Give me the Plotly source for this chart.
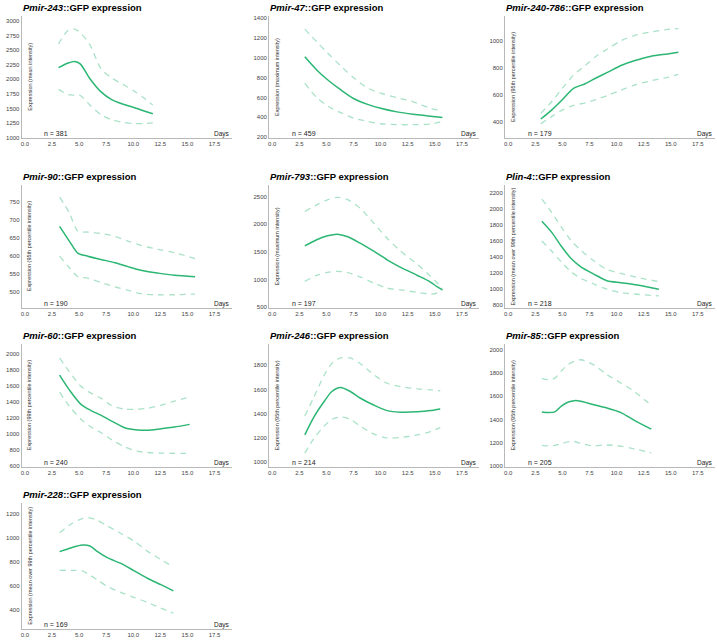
import plotly.graph_objects as go

W, H = 717, 644

# ---- panel metadata ----
GENES = ["Pmir-243", "Pmir-47", "Pmir-240-786", "Pmir-90", "Pmir-793",
         "Plin-4", "Pmir-60", "Pmir-246", "Pmir-85", "Pmir-228"]
Y_LABELS = [
    "Expression (mean intensity)",
    "Expression (maximum intensity)",
    "Expression (95th percentile intensity)",
    "Expression (95th percentile intensity)",
    "Expression (maximum intensity)",
    "Expression (mean over 99th percentile intensity)",
    "Expression (99th percentile intensity)",
    "Expression (95th percentile intensity)",
    "Expression (95th percentile intensity)",
    "Expression (mean over 99th percentile intensity)",
]
N_WORMS = [381, 459, 179, 190, 197, 218, 240, 214, 205, 169]
X_TICKS = [0.0, 2.5, 5.0, 7.5, 10.0, 12.5, 15.0, 17.5]
Y_TICKS = [
    [1000, 1250, 1500, 1750, 2000, 2250, 2500, 2750, 3000],
    [200, 400, 600, 800, 1000, 1200, 1400],
    [400, 600, 800, 1000],
    [500, 550, 600, 650, 700, 750],
    [500, 1000, 1500, 2000, 2500],
    [800, 1000, 1200, 1400, 1600, 1800, 2000, 2200],
    [600, 800, 1000, 1200, 1400, 1600, 1800, 2000],
    [1000, 1200, 1400, 1600, 1800],
    [1000, 1200, 1400, 1600, 1800, 2000],
    [400, 600, 800, 1000, 1200],
]
Y_RANGES = [
    [995, 3085], [190, 1423], [277, 1184], [454, 796], [482, 2711],
    [759, 2303], [588, 2123], [959, 1976], [986, 2056], [243, 1291],
]

# ---- curves: mean and confidence band per reporter ----
DAYS_243 = [3.1, 4.0, 4.6, 5.1, 6.0, 7.0, 8.0, 9.0, 10.0, 11.0, 11.8]
MEAN_243 = [2200, 2280, 2305, 2265, 2010, 1790, 1655, 1580, 1523, 1460, 1411]
UPPER_243 = [2606, 2840, 2860, 2800, 2590, 2190, 2025, 1920, 1810, 1680, 1560]
LOWER_243 = [1828, 1740, 1730, 1725, 1560, 1400, 1310, 1268, 1245, 1245, 1255]

DAYS_47 = [3.0, 4.1, 5.1, 6.3, 7.5, 8.8, 10.0, 11.5, 13.0, 14.6, 15.7]
MEAN_47 = [1010, 878, 779, 679, 590, 531, 491, 455, 431, 412, 398]
UPPER_47 = [1290, 1162, 1050, 920, 800, 695, 645, 598, 557, 491, 464]
LOWER_47 = [745, 600, 514, 448, 392, 359, 335, 326, 326, 332, 359]

DAYS_240 = [3.0, 4.0, 5.1, 6.0, 7.1, 8.1, 9.2, 10.4, 11.7, 13.2, 14.7, 15.7]
MEAN_240 = [419, 485, 571, 645, 681, 723, 767, 816, 853, 885, 902, 914]
UPPER_240 = [461, 547, 657, 743, 816, 885, 940, 1000, 1040, 1065, 1084, 1090]
LOWER_240 = [383, 437, 490, 520, 538, 563, 595, 633, 672, 703, 728, 750]

DAYS_90 = [3.2, 4.1, 4.9, 5.8, 7.0, 8.3, 9.5, 10.7, 12.3, 13.8, 15.7]
MEAN_90 = [681, 640, 606, 598, 589, 580, 569, 559, 551, 545, 541]
UPPER_90 = [762, 718, 667, 665, 661, 653, 640, 628, 617, 608, 591]
LOWER_90 = [598, 566, 541, 537, 525, 513, 504, 494, 491, 491, 493]

DAYS_793 = [3.0, 4.1, 5.1, 6.0, 6.9, 8.1, 9.4, 10.6, 11.8, 13.4, 14.6, 15.2, 15.7]
MEAN_793 = [1608, 1717, 1789, 1819, 1777, 1657, 1506, 1355, 1223, 1072, 952, 870, 813]
UPPER_793 = [2229, 2349, 2440, 2485, 2450, 2290, 2010, 1745, 1520, 1270, 1060, 940, 831]
LOWER_793 = [964, 1072, 1127, 1145, 1127, 1045, 934, 843, 813, 765, 735, 753, 813]

DAYS_LIN4 = [3.1, 4.0, 4.9, 5.8, 6.7, 7.9, 9.1, 10.4, 11.9, 13.9]
MEAN_LIN4 = [1848, 1711, 1533, 1380, 1276, 1185, 1102, 1077, 1048, 995]
UPPER_LIN4 = [2125, 1960, 1773, 1607, 1483, 1351, 1243, 1193, 1144, 1090]
LOWER_LIN4 = [1599, 1475, 1338, 1214, 1131, 1061, 995, 953, 932, 912]

DAYS_60 = [3.2, 4.1, 5.2, 6.1, 7.0, 8.0, 9.2, 10.4, 11.3, 12.6, 13.8, 15.2]
MEAN_60 = [1734, 1550, 1366, 1292, 1235, 1161, 1079, 1050, 1046, 1067, 1087, 1120]
UPPER_60 = [1947, 1775, 1591, 1509, 1447, 1355, 1310, 1308, 1320, 1360, 1410, 1460]
LOWER_60 = [1521, 1345, 1181, 1087, 1018, 930, 840, 786, 770, 762, 760, 760]

DAYS_246 = [3.0, 3.8, 4.8, 5.5, 6.3, 7.2, 8.1, 9.4, 10.6, 11.8, 13.4, 14.6, 15.5]
MEAN_246 = [1225, 1366, 1502, 1583, 1616, 1583, 1529, 1469, 1425, 1412, 1415, 1425, 1439]
UPPER_246 = [1380, 1529, 1719, 1814, 1860, 1860, 1814, 1719, 1651, 1624, 1605, 1597, 1588]
LOWER_246 = [1073, 1190, 1298, 1353, 1372, 1353, 1298, 1231, 1198, 1203, 1225, 1252, 1285]

DAYS_85 = [3.1, 3.7, 4.3, 4.9, 5.5, 6.1, 6.7, 7.9, 9.1, 10.4, 11.6, 13.2]
MEAN_85 = [1465, 1459, 1465, 1515, 1549, 1563, 1558, 1527, 1499, 1459, 1394, 1315]
UPPER_85 = [1755, 1746, 1758, 1820, 1875, 1905, 1918, 1873, 1790, 1716, 1645, 1521]
LOWER_85 = [1175, 1170, 1175, 1190, 1205, 1208, 1192, 1170, 1178, 1168, 1145, 1110]

DAYS_228 = [3.2, 4.3, 5.3, 6.0, 6.7, 7.6, 8.9, 10.1, 11.3, 12.6, 13.7]
MEAN_228 = [886, 919, 941, 933, 886, 836, 786, 726, 665, 610, 560]
UPPER_228 = [1043, 1118, 1160, 1167, 1145, 1100, 1035, 972, 890, 818, 759]
LOWER_228 = [731, 731, 726, 690, 650, 598, 545, 505, 465, 415, 375]

CURVES = [
    (DAYS_243, MEAN_243, UPPER_243, LOWER_243),
    (DAYS_47, MEAN_47, UPPER_47, LOWER_47),
    (DAYS_240, MEAN_240, UPPER_240, LOWER_240),
    (DAYS_90, MEAN_90, UPPER_90, LOWER_90),
    (DAYS_793, MEAN_793, UPPER_793, LOWER_793),
    (DAYS_LIN4, MEAN_LIN4, UPPER_LIN4, LOWER_LIN4),
    (DAYS_60, MEAN_60, UPPER_60, LOWER_60),
    (DAYS_246, MEAN_246, UPPER_246, LOWER_246),
    (DAYS_85, MEAN_85, UPPER_85, LOWER_85),
    (DAYS_228, MEAN_228, UPPER_228, LOWER_228),
]

# grid geometry in pixels
COL_LEFT = [20.7, 268.4, 504.7]
COL_WIDTH = 210.5
ROW_TOP = [15, 185, 345, 505]
ROW_BOTTOM = [138, 309, 469, 632]

MAIN_COLOR = "#2bb673"
BAND_COLOR = "rgba(43,182,115,0.4)"
FONT = "Arial, Liberation Sans, sans-serif"

fig = go.Figure()
annotations = []
layout_axes = {}

for i, (days, mean, upper, lower) in enumerate(CURVES):
    row, col = divmod(i, 3)
    k = "" if i == 0 else str(i + 1)
    left = COL_LEFT[col]
    right = left + COL_WIDTH
    top, bottom = ROW_TOP[row], ROW_BOTTOM[row]

    for vals, dashed in ((upper, True), (lower, True), (mean, False)):
        fig.add_trace(go.Scatter(
            x=days, y=vals, mode="lines", xaxis="x" + k, yaxis="y" + k,
            line=dict(color=BAND_COLOR if dashed else MAIN_COLOR,
                      width=1.3 if dashed else 1.5,
                      dash="6px,5px" if dashed else "solid",
                      shape="spline", smoothing=0.8),
            showlegend=False, hoverinfo="skip",
        ))

    layout_axes["xaxis" + k] = dict(
        domain=[left / W, right / W], anchor="y" + k, range=[-0.3, 19.1],
        tickvals=X_TICKS, tickformat=".1f", showgrid=False, zeroline=False,
        showline=True, linecolor="#b8b8b8", linewidth=1, ticks="",
        tickfont=dict(size=6, color="#444", family=FONT),
    )
    layout_axes["yaxis" + k] = dict(
        domain=[1 - bottom / H, 1 - top / H], anchor="x" + k, range=Y_RANGES[i],
        tickvals=Y_TICKS[i], showgrid=False, zeroline=False,
        showline=True, linecolor="#b8b8b8", linewidth=1, ticks="",
        tickfont=dict(size=6, color="#444", family=FONT),
    )

    annotations.append(dict(
        text="<b><i>%s</i>::GFP expression</b>" % GENES[i],
        xref="paper", yref="paper", x=(left - 1) / W, y=1 - (top - 8) / H,
        xanchor="left", yanchor="middle", showarrow=False,
        font=dict(size=9.5, color="black", family=FONT),
    ))
    annotations.append(dict(
        text=Y_LABELS[i], textangle=-90,
        xref="paper", yref="paper", x=(left + 8) / W, y=1 - (top + bottom) / 2 / H,
        xanchor="center", yanchor="middle", showarrow=False,
        font=dict(size=5.5, color="#333", family=FONT),
    ))
    annotations.append(dict(
        text="n = %d" % N_WORMS[i],
        xref="x" + k, yref="paper", x=1.6, y=1 - (bottom - 5) / H,
        xanchor="left", yanchor="middle", showarrow=False,
        font=dict(size=7, color="#222", family=FONT),
    ))
    annotations.append(dict(
        text="Days",
        xref="paper", yref="paper", x=right / W, y=1 - (bottom - 4) / H,
        xanchor="right", yanchor="middle", showarrow=False,
        font=dict(size=6.5, color="#222", family=FONT),
    ))

fig.update_layout(
    width=W, height=H,
    margin=dict(l=0, r=0, t=0, b=0),
    plot_bgcolor="white", paper_bgcolor="white",
    annotations=annotations,
    **layout_axes,
)

# the page's default body margin would push the figure 8px off the window
fig.write_html("out.html", config={"displayModeBar": False},
               post_script="document.body.style.margin='0';")
